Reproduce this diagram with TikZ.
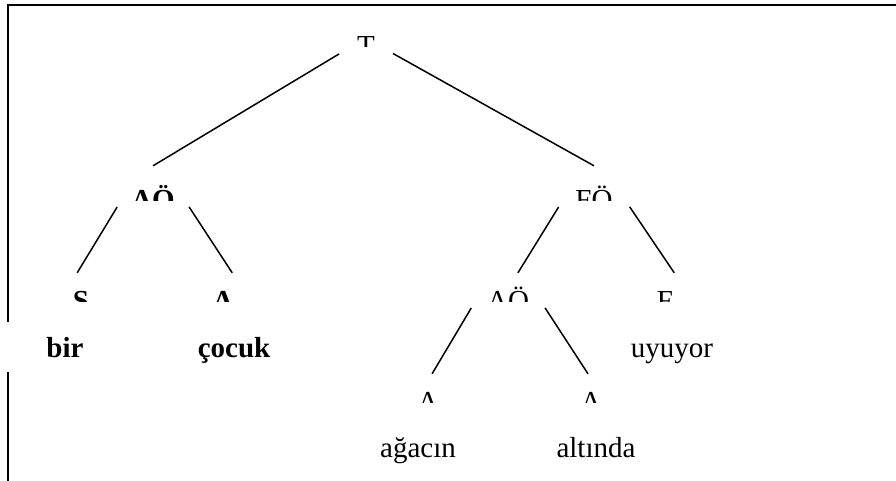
\documentclass[tikz,border=0pt]{standalone}
\usepackage{fontspec}
\setmainfont{Liberation Serif}
\usetikzlibrary{positioning}
\newcommand\lbl{\fontsize{29}{35}\selectfont}
\tikzset{
  cat/.style={rectangle, inner sep=0pt, minimum width=20pt, minimum height=28pt,
    path picture={\node[anchor=base, inner sep=0pt, font=\lbl] at ([yshift=-9pt]path picture bounding box.south) {#1};}},
  word/.style={inner sep=0pt, font=\lbl, text height=20pt, text depth=6pt},
  branch/.style={line width=1.5pt, shorten <=8pt},
  frame/.style={line width=2.4pt}
}

\begin{document}
\begin{tikzpicture}[x=1pt, y=1pt, node distance=100pt, on grid]
    \useasboundingbox (0,0) rectangle (896,-481);
    % frame
    \draw[frame] (8,-481) -- (8,-372);
    \draw[frame] (8,-322) -- (8,-5) -- (896,-5);
    % tree
    \node[cat={T}, minimum width=31pt] (T) at (366,-33) {};
    \node[cat={\textbf{AÖ}}, minimum width=63pt, minimum height=34pt] (AOa) [below left=150pt and 213pt of T] {};
    \node[cat={FÖ}, minimum width=62pt, minimum height=34pt] (FO) [below right=150pt and 228pt of T] {};
    \node[cat={\textbf{S}}] (S) [below left=104pt and 72pt of AOa] {};
    \node[cat={\textbf{A}}] (A1) [below right=104pt and 70pt of AOa] {};
    \node[cat={AÖ}, minimum width=65pt] (AOb) [below left=104pt and 86pt of FO] {};
    \node[cat={F}] (F) [below right=104pt and 71pt of FO] {};
    \node[cat={A}] (A2) [below left=101pt and 80pt of AOb] {};
    \node[cat={A}] (A3) [below right=101pt and 83pt of AOb] {};
    % words
    \node[word, font=\lbl\bfseries] (bir) [below left=63pt and 16pt of S] {bir};
    \node[word, font=\lbl\bfseries] (cocuk) [below right=63pt and 11pt of A1] {çocuk};
    \node[word] (uyuyor) [below right=63pt and 7pt of F] {uyuyor};
    \node[word] (agacin) [below left=62pt and 10pt of A2] {ağacın};
    \node[word] (altinda) [below right=62pt and 5pt of A3] {altında};
    % branches
    \draw[branch, shorten <=13pt] (T.south west) -- (AOa.north);
    \draw[branch, shorten <=13pt] (T.south east) -- (FO.north);
    \draw[branch] (AOa.south west) -- (S.105);
    \draw[branch] (AOa.south east) -- (A1.57);
    \draw[branch] (FO.south west) -- (AOb.55);
    \draw[branch] (FO.south east) -- (F.57);
    \draw[branch] (AOb.south west) -- (A2.74);
    \draw[branch] (AOb.south east) -- (A3.102);
\end{tikzpicture}
\end{document}
